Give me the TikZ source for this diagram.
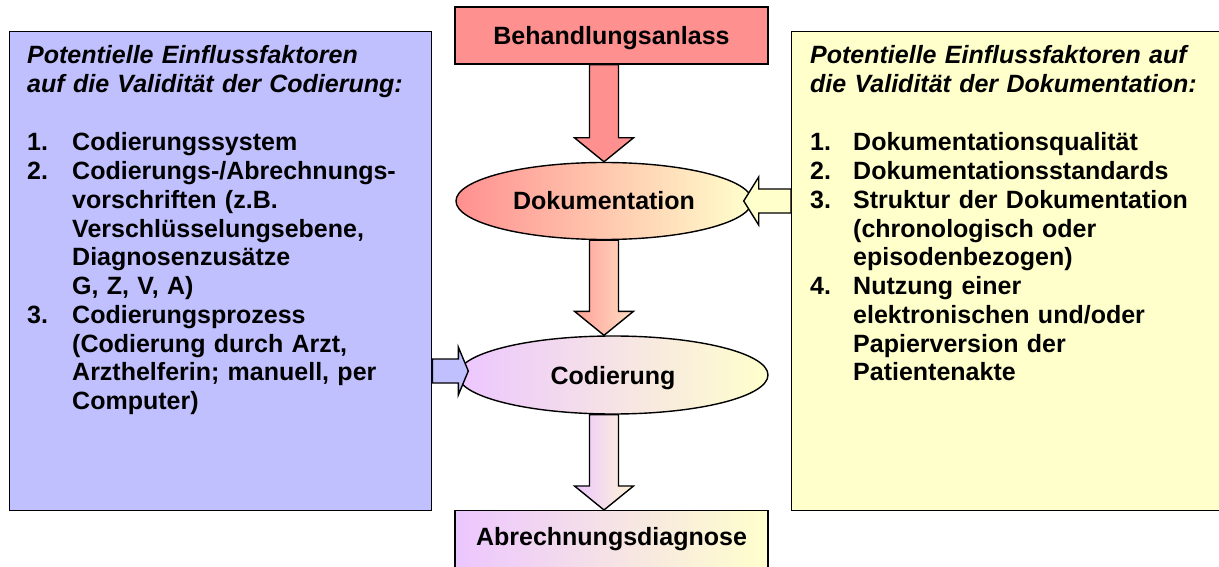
\documentclass[tikz,border=0pt]{standalone}
\usepackage{fontspec}
\setmainfont{Liberation Sans}[Ligatures=NoCommon]
\usetikzlibrary{shapes.geometric,calc}
\definecolor{bluebox}{HTML}{C0C0FF}
\definecolor{yelbox}{HTML}{FFFFCC}
\definecolor{redbox}{HTML}{FF9090}
\definecolor{lilac}{HTML}{ECC6FF}
\definecolor{redmid}{HTML}{FFA098}
\definecolor{peach}{HTML}{FFDEC4}
\definecolor{creammid}{HTML}{FFF6D6}
% vertical block arrow: #1 start, #2 tip, #3 style
\newcommand{\vblockarrow}[3]{%
  \path[#3] ($(#1)+(-14.5,0)$) -- ($(#1)+(14.5,0)$) -- ($(#2)+(14.5,-24)$)
    -- ($(#2)+(29.5,-24)$) -- (#2) -- ($(#2)+(-29.5,-24)$)
    -- ($(#2)+(-14.5,-24)$) -- cycle;}
% horizontal block arrow: #1 start, #2 tip, #3 signed head length, #4 style
\newcommand{\hblockarrow}[4]{%
  \path[#4] ($(#1)+(0,-12)$) -- ($(#2)+(-#3,-12)$) -- ($(#2)+(-#3,-24)$)
    -- (#2) -- ($(#2)+(-#3,24)$) -- ($(#2)+(-#3,12)$) -- ($(#1)+(0,12)$) -- cycle;}
\begin{document}
\begin{tikzpicture}[x=1pt,y=-1pt,
  outline/.style={draw=black,line width=1.4pt},
  bigfont/.style={font=\fontsize{25}{28.75}\selectfont\bfseries},
  centertext/.style={bigfont,text height=18pt,text depth=0pt,inner sep=0pt},
  listtext/.style={bigfont,align=left,inner sep=0pt,anchor=base west}]
\useasboundingbox (0,0) rectangle (1219,567);

% side boxes
\node[outline,fill=bluebox,anchor=north west,minimum width=422pt,minimum height=479pt,inner sep=0pt] (lbox) at (9,31) {};
\node[outline,fill=yelbox,anchor=north west,minimum width=450pt,minimum height=479pt,inner sep=0pt] (rbox) at (791,31) {};

% central flow
\node[outline,fill=redbox,minimum width=313pt,minimum height=57pt,centertext] (beh) at (611.5,35.5) {Behandlungsanlass};
\node[outline,ellipse,left color=redbox,right color=yelbox,minimum width=296pt,minimum height=77pt,centertext] (dok) at (604,201) {Dokumentation};
\node[outline,ellipse,left color=lilac,right color=yelbox,minimum width=310pt,minimum height=78pt,centertext] (cod) at (613,375) {Codierung};
\node[outline,left color=lilac,right color=yelbox,anchor=north,minimum width=313pt,minimum height=90pt,inner sep=0pt] (abr) at (611.5,510) {};
\node[bigfont,inner sep=0pt,anchor=base] (abrt) at (611.5,545) {Abrechnungsdiagnose};

% connector coordinates
\coordinate (a1s) at (beh.south -| dok.center);
\coordinate (a2t) at (cod.north -| dok.center);
\coordinate (a3s) at (cod.south -| dok.center);
\coordinate (a3t) at (abr.north -| dok.center);
\coordinate (bs) at ($(lbox.east |- cod.center)+(0,-4)$);
\coordinate (bt) at ($(cod.west)+(11,-4)$);
\coordinate (ys) at (rbox.west |- dok.center);
\coordinate (yt) at ($(dok.east)+(-9,0)$);

\vblockarrow{a1s}{dok.north}{outline,fill=redbox}
\vblockarrow{dok.south}{a2t}{outline,left color=redmid,right color=peach}
\vblockarrow{a3s}{a3t}{outline,left color=lilac,right color=creammid}
\hblockarrow{bs}{bt}{10}{outline,fill=bluebox}
\hblockarrow{ys}{yt}{-15}{outline,fill=yelbox}

% texts
\node[listtext,text width=395pt] (ltext) at (27,64) {%
\textit{Potentielle Einflussfaktoren}\\
\textit{auf die Validität der Codierung:}\\[29.5pt]
\makebox[45pt][l]{1.}Codierungssystem\\
\makebox[45pt][l]{2.}Codierungs-/Abrechnungs-\\
\hspace*{45pt}vorschriften (z.B.\\
\hspace*{45pt}Verschlüsselungsebene,\\
\hspace*{45pt}Diagnosenzusätze\\
\hspace*{45pt}G, Z, V, A)\\
\makebox[45pt][l]{3.}Codierungsprozess\\
\hspace*{45pt}(Codierung durch Arzt,\\
\hspace*{45pt}Arzthelferin; manuell, per\\
\hspace*{45pt}Computer)};

\node[listtext,text width=405pt] (rtext) at (810,64) {%
\textit{Potentielle Einflussfaktoren auf}\\
\textit{die Validität der Dokumentation:}\\[29.5pt]
\makebox[43pt][l]{1.}Dokumentationsqualität\\
\makebox[43pt][l]{2.}Dokumentationsstandards\\
\makebox[43pt][l]{3.}Struktur der Dokumentation\\
\hspace*{43pt}(chronologisch oder\\
\hspace*{43pt}episodenbezogen)\\
\makebox[43pt][l]{4.}Nutzung einer\\
\hspace*{43pt}elektronischen und/oder\\
\hspace*{43pt}Papierversion der\\
\hspace*{43pt}Patientenakte};
\end{tikzpicture}
\end{document}
